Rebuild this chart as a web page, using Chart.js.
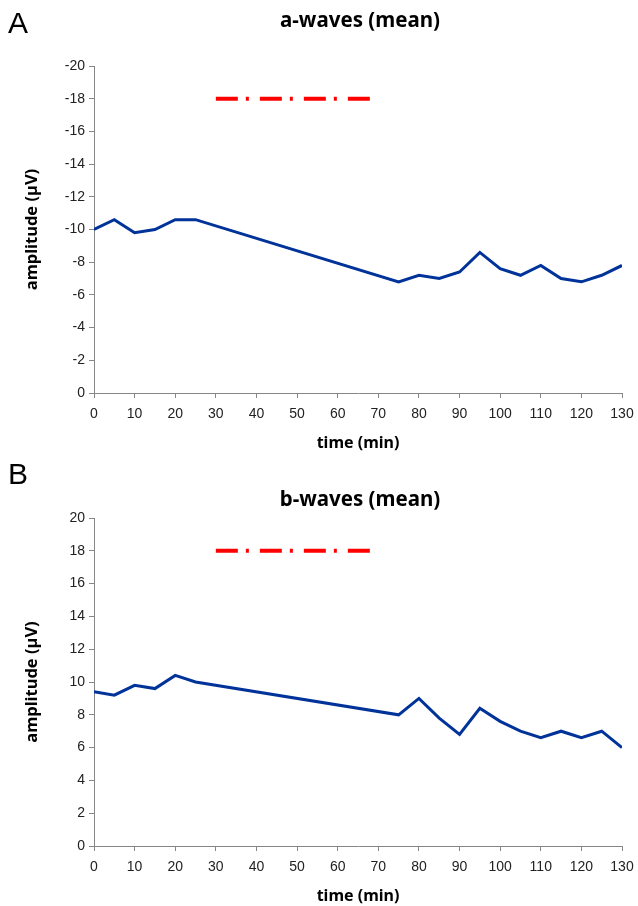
<!DOCTYPE html>
<html>
<head>
<meta charset="utf-8">
<script src="https://cdn.jsdelivr.net/npm/chart.js@4"></script>
<style>
  html, body { margin: 0; padding: 0; background: #fff; }
  #wrap { position: relative; width: 638px; height: 906px; overflow: hidden; }
  .panel { position: absolute; left: 0; width: 638px; height: 453px; }
  .letter { position: absolute; left: 8px; font: 30px "Liberation Sans", Arial, sans-serif; color: #000; }
  .title { position: absolute; left: 160px; width: 400px; text-align: center; font: bold 20.5px "Noto Sans", "Open Sans", sans-serif; color: #000; line-height: 24px; }
</style>
</head>
<body>
<div id="wrap">
  <div class="panel" style="top:0"><canvas id="chartA" width="638" height="453"></canvas></div>
  <div class="panel" style="top:453px"><canvas id="chartB" width="638" height="453"></canvas></div>
  <div class="letter" style="top:6px">A</div>
  <div class="letter" style="top:457px">B</div>
  <div class="title" style="top:7px">a-waves (mean)</div>
  <div class="title" style="top:486px">b-waves (mean)</div>
</div>
<script>
// time points (min) and mean amplitudes (µV)
const times = [0, 5, 10, 15, 20, 25, 75, 80, 85, 90, 95, 100, 105, 110, 115, 120, 125, 130];
const aWave = [-10.0, -10.6, -9.8, -10.0, -10.6, -10.6, -6.8, -7.2, -7.0, -7.4, -8.6, -7.6, -7.2, -7.8, -7.0, -6.8, -7.2, -7.8];
const bWave = [9.4, 9.2, 9.8, 9.6, 10.4, 10.0, 8.0, 9.0, 7.8, 6.8, 8.4, 7.6, 7.0, 6.6, 7.0, 6.6, 7.0, 6.0];

// treatment period marker (red dash-dot)
const markSpan = [30, 68];
const markA = -18;
const markB = 18;

const axisGrey = '#868686';
const labelFont = { family: '"Liberation Sans", Arial, sans-serif', size: 14 };
const boldFont = (size) => ({ family: '"Noto Sans", "Open Sans", sans-serif', size: size, weight: 'bold' });

function makeChart(id, values, mark, yMin, yMax, reverse, topPad) {
    const ctx = document.getElementById(id);
    return new Chart(ctx, {
        type: 'line',
        data: {
            datasets: [
                {
                    data: times.map((t, i) => ({ x: t, y: values[i] })),
                    borderColor: '#003399',
                    borderWidth: 3,
                    pointRadius: 0,
                    tension: 0
                },
                {
                    data: markSpan.map(t => ({ x: t, y: mark })),
                    borderColor: '#ff0000',
                    borderWidth: 4,
                    borderDash: [22, 8, 3, 11],
                    pointRadius: 0
                }
            ]
        },
        options: {
            responsive: false,
            animation: false,
            layout: { padding: { left: 0, right: 16, top: topPad, bottom: 0 } },
            plugins: {
                legend: { display: false },
                tooltip: { enabled: false },
                title: { display: false }
            },
            scales: {
                x: {
                    type: 'linear',
                    min: 0, max: 130,
                    ticks: { stepSize: 10, color: '#222', font: labelFont, padding: 8 },
                    grid: { display: true, drawOnChartArea: false, drawTicks: true, tickLength: 5, color: axisGrey },
                    border: { color: axisGrey, width: 1 },
                    title: { display: true, text: 'time (min)', color: '#000', font: boldFont(16), padding: { top: 14, bottom: 0 } },
                    afterFit: s => { s.height = 60; s.paddingLeft = 0; s.paddingRight = 0; }
                },
                y: {
                    min: yMin, max: yMax,
                    reverse: reverse,
                    ticks: { stepSize: 2, color: '#222', font: labelFont, padding: 4 },
                    grid: { display: true, drawOnChartArea: false, drawTicks: true, tickLength: 5, color: axisGrey },
                    border: { color: axisGrey, width: 1 },
                    title: { display: true, text: 'amplitude (µV)', color: '#000', font: boldFont(16.5), padding: { top: 22, bottom: 0 } },
                    afterFit: s => { s.width = 94; }
                }
            }
        }
    });
}

makeChart('chartA', aWave, markA, -20, 0, true, 66);
makeChart('chartB', bWave, markB, 0, 20, false, 65);
</script>
</body>
</html>
